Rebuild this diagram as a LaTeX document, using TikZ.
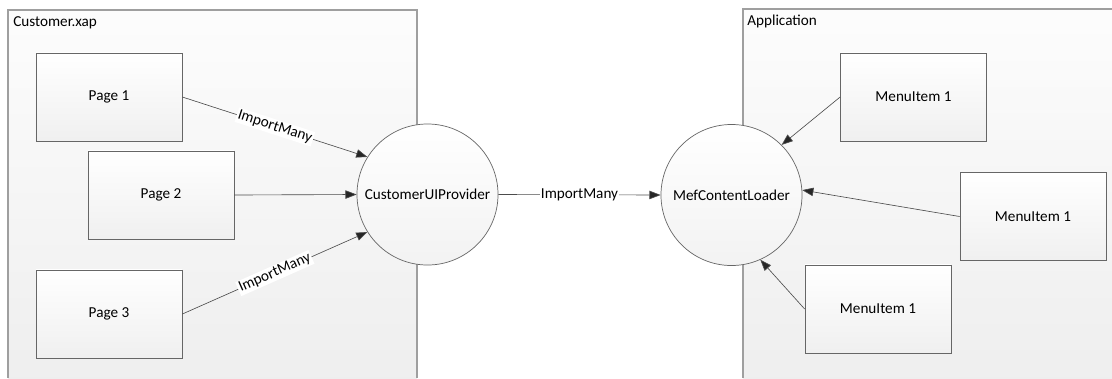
\documentclass[tikz,border=0pt]{standalone}
\usepackage{fontspec}
\setmainfont{Carlito}
\usetikzlibrary{arrows.meta,shadows}

\begin{document}
\begin{tikzpicture}[x=0.025cm,y=-0.025cm,
		every node/.style={font=\fontsize{10.8pt}{13pt}\selectfont},
		khung/.style={draw=gray!75,line width=.8pt,top color=gray!2,bottom color=gray!13},
		hop/.style={rectangle,draw=gray!80!black,line width=.5pt,top color=white,bottom color=gray!12,
			minimum width=3.65cm,minimum height=2.2cm,drop shadow={shadow xshift=.6pt,shadow yshift=-.6pt,opacity=.25}},
		tron/.style={circle,draw=gray!80!black,line width=.5pt,top color=white,bottom color=gray!10,
			minimum size=3.525cm,inner sep=0pt},
		mui/.style={draw=gray!60!black,line width=.45pt,-{Triangle[length=0.28cm,width=0.21cm,fill=black!85]}},
		nhan/.style={fill=white,inner sep=1pt}]
	\useasboundingbox (0,0) rectangle (1112,378);
	% hai khung
	\fill[khung,draw=none] (8,10) rectangle (417,378);
	\draw[draw=gray!75,line width=.8pt] (8,378)--(8,10)--(417,10)--(417,378);
	\node[anchor=north west,inner sep=0pt] (xap) at (13,16) {Customer.xap};
	\fill[khung,draw=none] (743,9) rectangle (1112,378);
	\draw[draw=gray!75,line width=.8pt] (743,378)--(743,9)--(1112,9);
	\node[anchor=north west,inner sep=0pt] (app) at (747,15) {Application};
	% cac nut
	\node[hop] (p1) at (109,97) {Page 1};
	\node[hop] (p2) at (161,195) {Page 2};
	\node[hop] (p3) at (109,314) {Page 3};
	\node[tron] (cup) at (427.5,194.5) {CustomerUIProvider};
	\node[tron] (mcl) at (731.5,195) {MefContentLoader};
	\node[hop] (m1) at (913.5,97) {MenuItem 1};
	\node[hop] (m2) at (1033,216.5) {MenuItem 1};
	\node[hop] (m3) at (878,309) {MenuItem 1};
	% cac mui ten
	\draw[mui] (p1.east)--(cup.148) node[midway,sloped,nhan]{ImportMany};
	\draw[mui] (p2.east)--(cup.west);
	\draw[mui] (p3.east)--(cup.212) node[midway,sloped,nhan]{ImportMany};
	\draw[mui] (cup.east)--(mcl.west) node[midway,nhan]{ImportMany};
	\draw[mui] (m1.west)--(mcl.45);
	\draw[mui] (m2.west)--(mcl.4);
	\draw[mui] (m3.west)--(mcl.-66);
\end{tikzpicture}
\end{document}
